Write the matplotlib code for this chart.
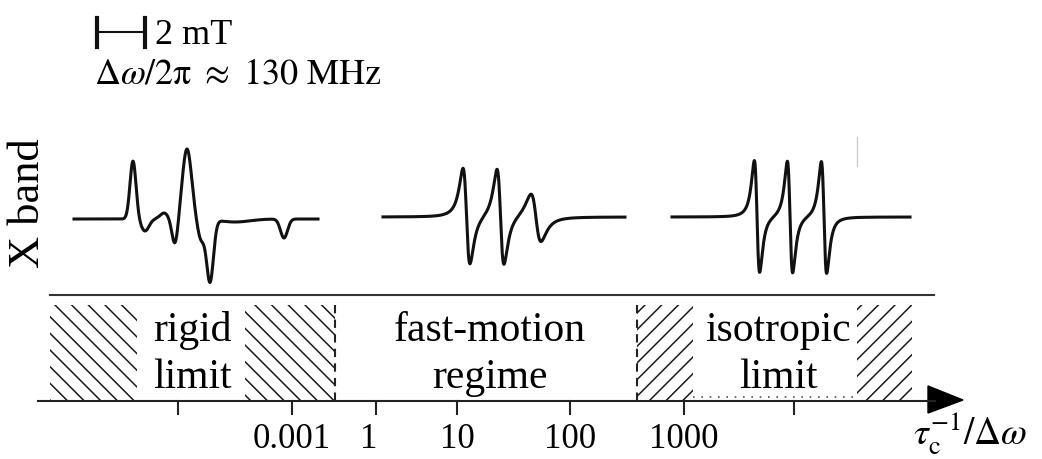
import matplotlib.pyplot as plt
import numpy as np
from matplotlib.patches import Rectangle, Polygon

plt.rcParams['font.family'] = ['Liberation Serif', 'DejaVu Serif']
plt.rcParams['mathtext.fontset'] = 'stix'
plt.rcParams['hatch.linewidth'] = 1.1

# rigid limit spectrum: features (centre, height, width) in px
rigid_pos = [133, 145, 164, 175, 187, 201, 210, 235, 284]
rigid_amp = [58, -12, 6, -26, 70, -20, -62, -3, -19]
rigid_sig = [3.0, 4.0, 4.0, 3.0, 4.6, 3.5, 3.4, 15, 3.5]

# fast-motion: three derivative lines (centre, amplitude, half width)
fast_pos = [466.5, 500.5, 536]
fast_amp = [48, 48, 24]
fast_w = [6.0, 6.0, 8.7]

# isotropic limit: three sharp lines
iso_pos = [757, 790, 824]
iso_amp = [56, 56, 56]
iso_w = [4.6, 4.6, 4.6]

tick_pos = [178, 292, 376, 457, 570, 684, 794]
tick_labels = ['', '0.001', '1', '10', '100', '1000', '']

regions = ['rigid\nlimit', 'fast-motion\nregime', 'isotropic\nlimit']


def gauss_sum(x, pos, amp, sig):
    y = np.zeros_like(x)
    for p, a, s in zip(pos, amp, sig):
        y += a * np.exp(-0.5 * ((x - p) / s) ** 2)
    return y


def lor_deriv(x, pos, amp, w):
    y = np.zeros_like(x)
    for p, a, ww in zip(pos, amp, w):
        u = (x - p) / ww
        y += a * (-2 * u / (1 + u ** 2) ** 2) / 0.6495
    return y


fig = plt.figure(figsize=(10.42, 4.59), dpi=100)
ax = fig.add_axes([0, 0, 1, 1])
ax.set_xlim(0, 1042)
ax.set_ylim(459, 0)
ax.axis('off')

# spectra
lc = '#111111'
x1 = np.linspace(74, 318, 2000)
ax.plot(x1, 219 - gauss_sum(x1, rigid_pos, rigid_amp, rigid_sig), color=lc, lw=2.2)
x2 = np.linspace(383, 625, 2000)
ax.plot(x2, 217 - lor_deriv(x2, fast_pos, fast_amp, fast_w), color=lc, lw=2.2)
x3 = np.linspace(672, 910, 2000)
ax.plot(x3, 217 - lor_deriv(x3, iso_pos, iso_amp, iso_w), color=lc, lw=2.2)

# stray mark from the original scan
ax.plot([857, 857], [137, 166], color='#cccccc', lw=1)

ax.text(28, 203, 'X band', rotation=90, ha='center', va='center', fontsize=32)

# scale bar
ax.plot([97, 145], [32, 32], color=lc, lw=1.5)
ax.plot([97, 97], [18, 47], color=lc, lw=3)
ax.plot([145, 145], [18, 47], color=lc, lw=3)
ax.text(155, 44, '2 mT', fontsize=26, va='baseline')
ax.text(94, 83, r'$\Delta\omega/2\mathrm{\pi}\ \approx\ 130\ \mathrm{MHz}$', fontsize=26,
        va='baseline')

# band
ax.plot([50, 934], [295, 295], color='#333333', lw=1.5)
for x0, x1_, h in [(50, 137, '\\\\'), (245, 335, '\\\\'), (637, 693, '//'), (857, 912, '//')]:
    ax.add_patch(Rectangle((x0, 305), x1_ - x0, 96, fill=False, hatch=h,
                           edgecolor='#1a1a1a', lw=0))
ax.plot([335, 335], [305, 401], color='#222222', lw=1.5, ls=(0, (4, 3)))
ax.plot([637, 637], [305, 401], color='#222222', lw=1.5, ls=(0, (4, 3)))
ax.plot([693, 857], [397, 397], color='#555555', lw=1.2, ls=(0, (1, 4)))

cx = [192, 490, 778]
for c, r in zip(cx, regions):
    top, bot = r.split('\n')
    ax.text(c, 341, top, ha='center', va='baseline', fontsize=30)
    ax.text(c, 388, bot, ha='center', va='baseline', fontsize=30)

# axis
ax.plot([38, 935], [401, 401], color='#222222', lw=1.5)
ax.add_patch(Polygon([[928, 386], [963, 400], [928, 413]], closed=True, color='black'))
for t, lab in zip(tick_pos, tick_labels):
    ax.plot([t, t], [401, 414], color='#222222', lw=1.5)
    if lab:
        ax.text(t if lab != '1' else 369, 448, lab, ha='center', va='baseline', fontsize=25)
ax.text(913, 445, r'$\tau_\mathrm{c}^{-1}/\Delta\omega$', fontsize=27, va='baseline')

fig.savefig('out.png', dpi=100)
